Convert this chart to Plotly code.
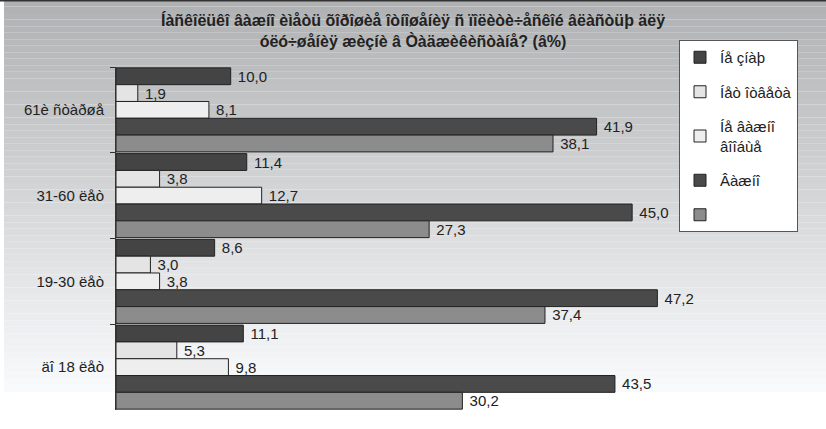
import plotly.graph_objects as go

categories = ["61è ñòàðøå", "31-60 ëåò", "19-30 ëåò", "äî 18 ëåò"]
series_names = ["Íå çíàþ", "Íåò îòâåòà", "Íå âàæíî<br>âîîáùå", "Âàæíî", " "]
ne_znayu = [10.0, 11.4, 8.6, 11.1]
net_otveta = [1.9, 3.8, 3.0, 5.3]
ne_vazhno = [8.1, 12.7, 3.8, 9.8]
vazhno = [41.9, 45.0, 47.2, 43.5]
ochen_vazhno = [38.1, 27.3, 37.4, 30.2]
series_values = [ne_znayu, net_otveta, ne_vazhno, vazhno, ochen_vazhno]
colors = ["#444444", "#e4e4e4", "#eeeeee", "#4a4a4a", "#8c8c8c"]

title_lines = ["Íàñêîëüêî âàæíî èìåòü õîðîøèå îòíîøåíèÿ ñ ïîëèòè÷åñêîé âëàñòüþ äëÿ",
               "óëó÷øåíèÿ æèçíè â Òàäæèêèñòàíå? (â%)"]

W, H = 826, 429
L, R, T, B = 116, 148, 67, 19
pw, ph = W - L - R, H - T - B

fig = go.Figure()
for i, (name, vals, col) in enumerate(zip(series_names, series_values, colors)):
    fig.add_trace(go.Bar(
        y=categories, x=vals, orientation="h", name=name,
        marker=dict(color=col, line=dict(color="#222222", width=1)),
        text=[f"{v:.1f}".replace(".", ",") for v in vals],
        texttemplate=" %{text}",
        textposition="outside", cliponaxis=False, constraintext="none",
        textfont=dict(family="Liberation Sans, Arial", size=15, color="#222222"),
        legendgroup=f"g{i}",
    ))

# gradient background bands
shapes = []
n = 60
top_px, bot_px = 0, 392
for k in range(n):
    y0px = top_px + (bot_px - top_px) * k / n
    y1px = top_px + (bot_px - top_px) * (k + 1) / n
    g = int(176 + (250 - 176) * (k + 0.5) / n)
    shapes.append(dict(type="rect", xref="paper", yref="paper", layer="below",
                       x0=(4 - L) / pw, x1=(W - L) / pw,
                       y0=(H - B - y1px) / ph, y1=(H - B - y0px) / ph,
                       line=dict(width=0), fillcolor=f"rgb({g},{g + 1},{g + 3})"))
shapes.append(dict(type="line", xref="paper", yref="paper", layer="above",
                   x0=(0 - L) / pw, x1=(W - L) / pw,
                   y0=(H - B - 0.5) / ph, y1=(H - B - 0.5) / ph,
                   line=dict(color="#333333", width=2)))

fig.update_layout(
    width=W, height=H,
    margin=dict(l=L, r=R, t=T, b=B),
    paper_bgcolor="white", plot_bgcolor="rgba(0,0,0,0)",
    barmode="group", bargap=0.02, bargroupgap=0,
    shapes=shapes,
    font=dict(family="Liberation Sans, Arial", size=14, color="#222222"),
    title=dict(text="<br>".join(title_lines), x=0.5, xanchor="center",
               y=0.94, yanchor="top",
               font=dict(family="Liberation Sans, Arial", size=16, color="#222222", weight="bold")),
    xaxis=dict(range=[0, pw / 11.47], visible=False, fixedrange=True),
    yaxis=dict(autorange="reversed", showline=True, linecolor="#333333", linewidth=1,
               ticks="outside", tickson="boundaries", ticklen=5, tickcolor="#333333",
               showgrid=False, tickfont=dict(size=15, color="#222222"), ticklabelstandoff=8),
    legend=dict(x=(679 - L) / pw, xanchor="left", y=(H - B - 40) / ph, yanchor="top",
                bgcolor="white", bordercolor="#555555", borderwidth=1,
                font=dict(size=15, color="#222222"), tracegroupgap=12,
                traceorder="grouped"),
    showlegend=True,
)

fig.write_html("out.html", config={"displayModeBar": False},
               post_script="document.body.style.margin='0px';")
